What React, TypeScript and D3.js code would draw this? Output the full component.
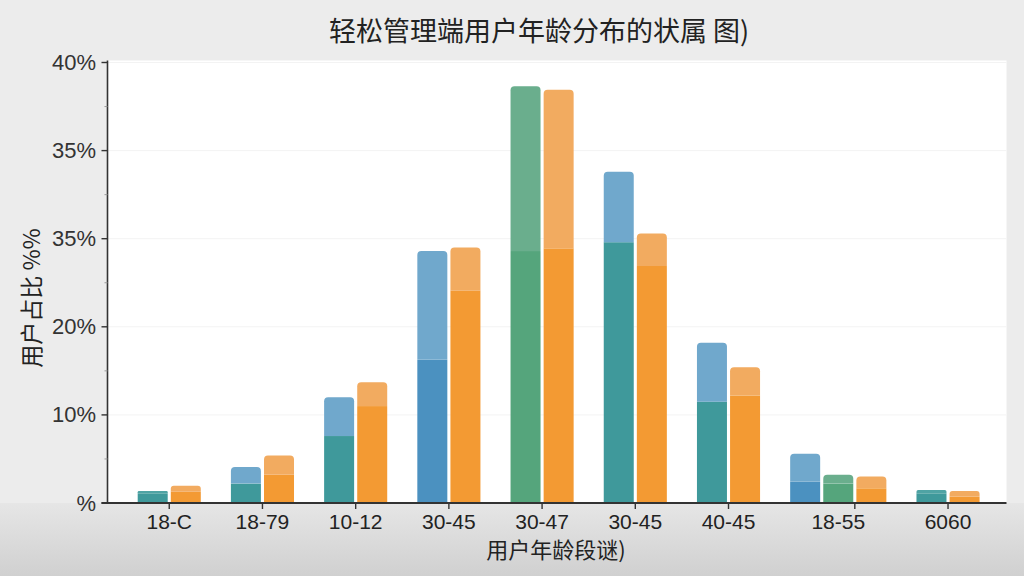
import React from "react";
import * as d3 from "d3";

const categories = ["18-C", "18-79", "10-12", "30-45", "30-47", "30-45", "40-45", "18-55", "6060"];
const yTickValues = [0, 10, 20, 30, 40, 50];
const yTickLabels = ["%", "10%", "20%", "35%", "35%", "40%"];

// one entry per bar (group 8 "18-55" has three bars)
const barGroup = [0, 0, 1, 1, 2, 2, 3, 3, 4, 4, 5, 5, 6, 6, 7, 7, 7, 8, 8];
const barLower = [1.1, 1.28, 2.2, 3.2, 7.6, 11.0, 16.25, 24.1, 28.6, 28.9, 29.6, 26.9, 11.5, 12.2, 2.4, 2.2, 1.67, 1.1, 0.7];
const barTotal = [1.36, 1.97, 4.1, 5.4, 12.0, 13.7, 28.6, 29.0, 47.3, 46.9, 37.6, 30.6, 18.2, 15.4, 5.6, 3.2, 3.0, 1.48, 1.36];
const barLowerColor = ["teal", "orange", "teal", "orange", "teal", "orange", "blue", "orange", "green", "orange", "teal", "orange", "teal", "orange", "blue", "green", "orange", "teal", "orange"];
const barUpperColor = ["tealLight", "orangeLight", "blueLight", "orangeLight", "blueLight", "orangeLight", "blueLight", "orangeLight", "greenLight", "orangeLight", "blueLight", "orangeLight", "blueLight", "orangeLight", "blueLight", "greenLight", "orangeLight", "tealLight", "orangeLight"];

const palette: Record<string, string> = {
  teal: "#3f999b",
  tealLight: "#4fa3a4",
  blue: "#4b91c0",
  blueLight: "#70a8cc",
  green: "#55a57c",
  greenLight: "#6aae8d",
  orange: "#f39a33",
  orangeLight: "#f2ab60",
};

const W = 1024;
const H = 576;
const plotLeft = 107.5;
const plotRight = 1006.5;
const plotTop = 60.5;
const baseY = 503;
const slot = 33.1;
const groupGapRatio = 0.816;
const barW = 30;

export default function App() {
  const y = d3.scaleLinear().domain([0, 50]).range([baseY, 62.5]);
  const x = d3.scaleLinear().domain([0, 1]).range([137.7, 137.7 + slot]);
  const barX = (i: number) => x(i + barGroup[i] * groupGapRatio);

  const groups = categories.map((c, g) => {
    const idx = barGroup.map((gg, i) => (gg === g ? i : -1)).filter((i) => i >= 0);
    const first = idx[0];
    const last = idx[idx.length - 1];
    const center = (barX(first) + barX(last) + barW) / 2;
    const tick = barX(last) - (slot - barW) / 2;
    return { c, center, tick };
  });

  const topPath = (x0: number, y0: number, y1: number, r: number) => {
    const rr = Math.min(r, (y1 - y0) / 2);
    return `M${x0},${y1}V${y0 + rr}Q${x0},${y0} ${x0 + rr},${y0}H${x0 + barW - rr}Q${x0 + barW},${y0} ${x0 + barW},${y0 + rr}V${y1}Z`;
  };

  const minorTicks = d3.range(5, 50, 10);

  return (
    <svg width={W} height={H} style={{ position: "absolute", left: 0, top: 0, fontFamily: "'Liberation Sans', Arial, sans-serif" }}>
      <defs>
        <linearGradient id="floor" x1="0" y1="0" x2="0" y2="1">
          <stop offset="0" stopColor="#e6e6e6" />
          <stop offset="1" stopColor="#d0d0d0" />
        </linearGradient>
      </defs>
      <rect x={0} y={0} width={W} height={H} fill="#ececec" />
      <rect x={0} y={baseY} width={W} height={H - baseY} fill="url(#floor)" />
      <rect x={plotLeft} y={plotTop} width={plotRight - plotLeft} height={baseY - plotTop} fill="#ffffff" />

      {yTickValues.slice(1).map((v) => (
        <line key={"g" + v} x1={plotLeft} x2={plotRight} y1={y(v)} y2={y(v)} stroke="#f3f3f3" strokeWidth={1} />
      ))}

      {barGroup.map((g, i) => {
        const x0 = barX(i);
        const yl = y(barLower[i]);
        const yt = y(barTotal[i]);
        return (
          <g key={"b" + i}>
            <rect x={x0} y={yl} width={barW} height={baseY - yl} fill={palette[barLowerColor[i]]} />
            <path d={topPath(x0, yt, yl, 4)} fill={palette[barUpperColor[i]]} />
          </g>
        );
      })}

      <line x1={plotLeft} x2={plotLeft} y1={plotTop} y2={baseY} stroke="#333" strokeWidth={1.6} />
      <line x1={plotLeft - 6} x2={plotRight} y1={baseY} y2={baseY} stroke="#333" strokeWidth={1.8} />

      {yTickValues.map((v, k) => (
        <g key={"yt" + v}>
          <line x1={plotLeft - 6} x2={plotLeft} y1={y(v)} y2={y(v)} stroke="#333" strokeWidth={1.4} />
          <text x={96} y={y(v)} textAnchor="end" dominantBaseline="central" fontSize={22} fill="#333">
            {yTickLabels[k]}
          </text>
        </g>
      ))}
      {minorTicks.map((v) => (
        <line key={"m" + v} x1={plotLeft - 3} x2={plotLeft} y1={y(v)} y2={y(v)} stroke="#999" strokeWidth={1} />
      ))}

      {groups.map((g, k) => (
        <g key={"xt" + k}>
          <line x1={g.tick} x2={g.tick} y1={baseY} y2={baseY + 6} stroke="#333" strokeWidth={1.4} />
          <text x={g.center} y={529} textAnchor="middle" fontSize={21} fill="#222">
            {g.c}
          </text>
        </g>
      ))}

      <text x={539} y={41} textAnchor="middle" fontSize={27} fill="#222" fontFamily="'Noto Sans CJK SC', sans-serif">
        轻松管理端用户年龄分布的状属 图)
      </text>
      <text x={556} y={558} textAnchor="middle" fontSize={22} fill="#222" fontFamily="'Noto Sans CJK SC', sans-serif">
        用户年龄段谜)
      </text>
      <text
        transform="translate(30,298) rotate(-90)"
        textAnchor="middle"
        dominantBaseline="central"
        fontSize={23}
        fill="#222"
        fontFamily="'Noto Sans CJK SC', sans-serif"
      >
        用户占比 %%
      </text>
    </svg>
  );
}
